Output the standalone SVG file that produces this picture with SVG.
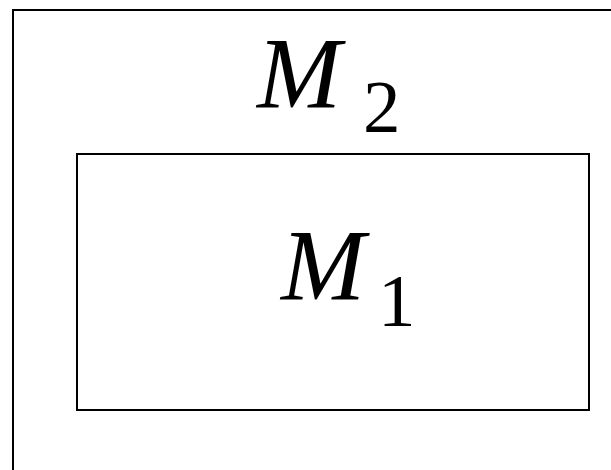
<svg xmlns="http://www.w3.org/2000/svg" width="611" height="470" viewBox="0 0 611 470">
<style>
.box{fill:none;stroke:#000;stroke-width:2}
.m{font-family:"Liberation Serif","Times New Roman",serif;font-style:italic;font-size:101px;fill:#000}
.s{font-family:"Liberation Serif","Times New Roman",serif;font-size:75px;fill:#000}
</style>
<rect width="611" height="470" fill="#fff"/>
<g id="M2">
<rect class="box" x="13" y="10" width="610" height="480"/>
<text class="m" x="257" y="108">M</text>
<text class="s" x="363" y="132">2</text>
</g>
<g id="M1">
<rect class="box" x="77" y="154" width="512" height="256"/>
<text class="m" x="281" y="300">M</text>
<text class="s" x="378" y="326">1</text>
</g>
</svg>
